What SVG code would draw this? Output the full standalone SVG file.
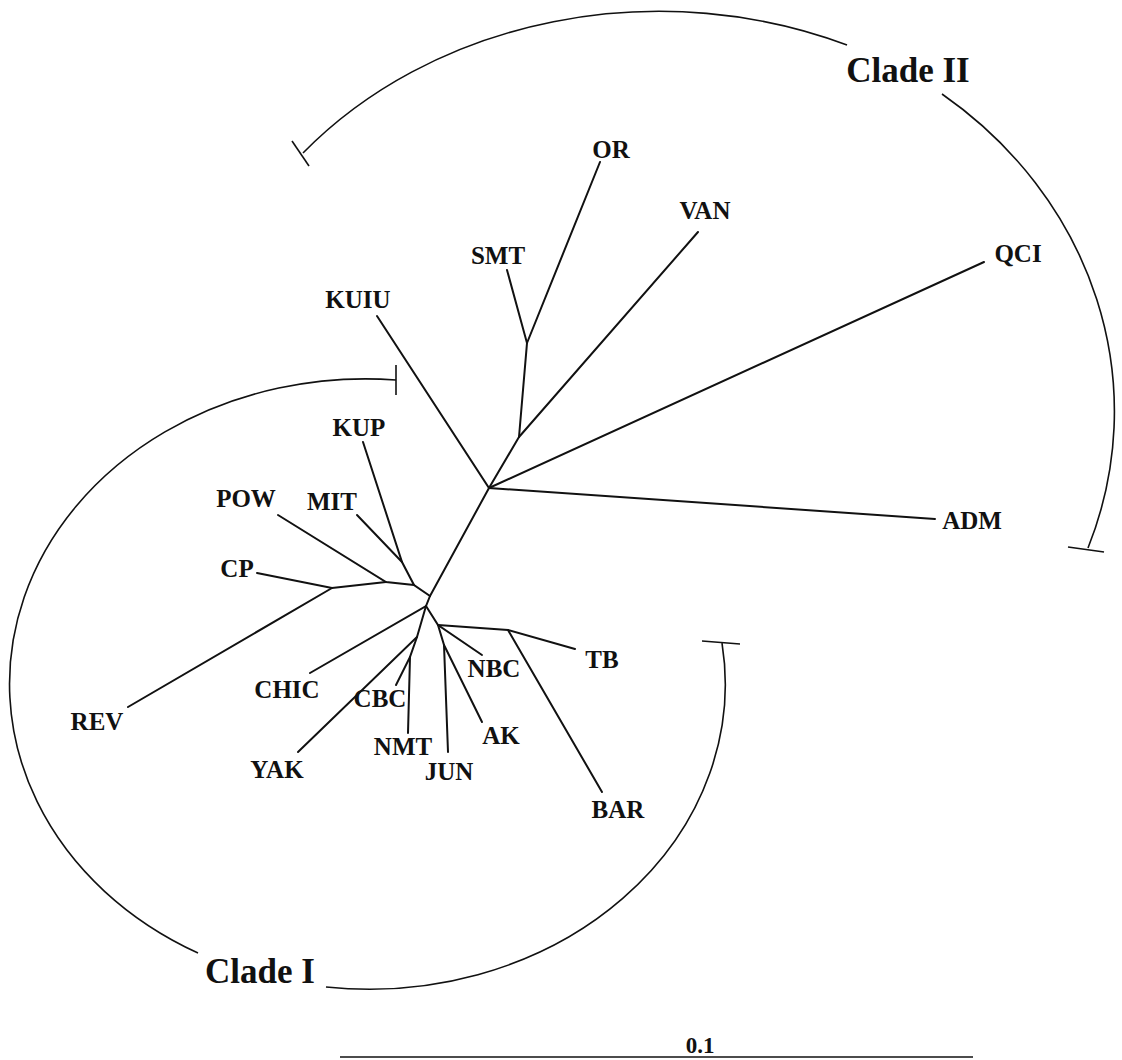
<svg xmlns="http://www.w3.org/2000/svg" width="1122" height="1060" viewBox="0 0 1122 1060">
<style>
.br{stroke:#111;stroke-width:2;fill:none;stroke-linecap:round}
.arc{stroke:#111;stroke-width:1.6;fill:none}
.lb{font-family:"Liberation Serif","Times New Roman",serif;font-weight:bold;font-size:25px;fill:#111;text-anchor:middle}
.cl{font-family:"Liberation Serif","Times New Roman",serif;font-weight:bold;font-size:35px;fill:#111;text-anchor:middle}
</style>
<rect width="1122" height="1060" fill="#fff"/>
<g id="connectors">
<polyline class="br" points="377,316 489,488 935,519"/>
<line class="br" x1="489" y1="488" x2="984" y2="262"/>
<polyline class="br" points="489,488 519,437 527,343 507,270"/>
<line class="br" x1="527" y1="343" x2="600" y2="162"/>
<line class="br" x1="519" y1="437" x2="698" y2="232"/>
<line class="br" x1="489" y1="488" x2="430" y2="596"/>
<polyline class="br" points="430,596 414,585 402,562 363,442"/>
<line class="br" x1="402" y1="562" x2="357" y2="515"/>
<polyline class="br" points="414,585 386,582 278,515"/>
<polyline class="br" points="386,582 332,588 257,573"/>
<line class="br" x1="332" y1="588" x2="128" y2="707"/>
<polyline class="br" points="430,596 426,606 310,673"/>
<polyline class="br" points="426,606 417,637 298,752"/>
<polyline class="br" points="417,637 410,657 408,733"/>
<line class="br" x1="410" y1="657" x2="396" y2="685"/>
<polyline class="br" points="426,606 438,625 482,655"/>
<polyline class="br" points="438,625 444,645 448,752"/>
<line class="br" x1="444" y1="645" x2="482" y2="722"/>
<polyline class="br" points="438,625 508,630 575,649"/>
<line class="br" x1="508" y1="630" x2="602" y2="792"/>
</g>
<g id="clade-II">
<path class="arc" d="M303,153 A462,390 0 0 1 847,45"/>
<path class="arc" d="M942,94 A440,400 0 0 1 1088,548"/>
<line class="arc" x1="292" y1="141" x2="309" y2="166"/>
<line class="arc" x1="1068" y1="547" x2="1104" y2="552"/>
<text class="cl" x="908" y="82">Clade II</text>
</g>
<g id="clade-I">
<path class="arc" d="M396,380 A356,305 0 0 0 198,953"/>
<path class="arc" d="M326,987 A356,305 0 0 0 722,643"/>
<line class="arc" x1="396" y1="365" x2="396" y2="395"/>
<line class="arc" x1="702" y1="641" x2="740" y2="644"/>
<text class="cl" x="260" y="983">Clade I</text>
</g>
<g id="KUIU"><text class="lb" x="358" y="308">KUIU</text></g>
<g id="SMT"><text class="lb" x="498" y="264">SMT</text></g>
<g id="OR"><text class="lb" x="611" y="158">OR</text></g>
<g id="VAN"><text class="lb" x="705" y="219">VAN</text></g>
<g id="QCI"><text class="lb" x="1018" y="262">QCI</text></g>
<g id="ADM"><text class="lb" x="972" y="529">ADM</text></g>
<g id="KUP"><text class="lb" x="359" y="436">KUP</text></g>
<g id="POW"><text class="lb" x="246" y="507">POW</text></g>
<g id="MIT"><text class="lb" x="332" y="510">MIT</text></g>
<g id="CP"><text class="lb" x="237" y="577">CP</text></g>
<g id="REV"><text class="lb" x="97" y="730">REV</text></g>
<g id="CHIC"><text class="lb" x="287" y="698">CHIC</text></g>
<g id="CBC"><text class="lb" x="380" y="707">CBC</text></g>
<g id="YAK"><text class="lb" x="277" y="778">YAK</text></g>
<g id="NMT"><text class="lb" x="403" y="755">NMT</text></g>
<g id="JUN"><text class="lb" x="449" y="780">JUN</text></g>
<g id="AK"><text class="lb" x="501" y="744">AK</text></g>
<g id="NBC"><text class="lb" x="494" y="677">NBC</text></g>
<g id="TB"><text class="lb" x="602" y="668">TB</text></g>
<g id="BAR"><text class="lb" x="618" y="818">BAR</text></g>
<g id="scale">
<line class="arc" x1="340" y1="1057" x2="973" y2="1057"/>
<text class="lb" x="700" y="1053" style="font-size:23px">0.1</text>
</g>
</svg>
